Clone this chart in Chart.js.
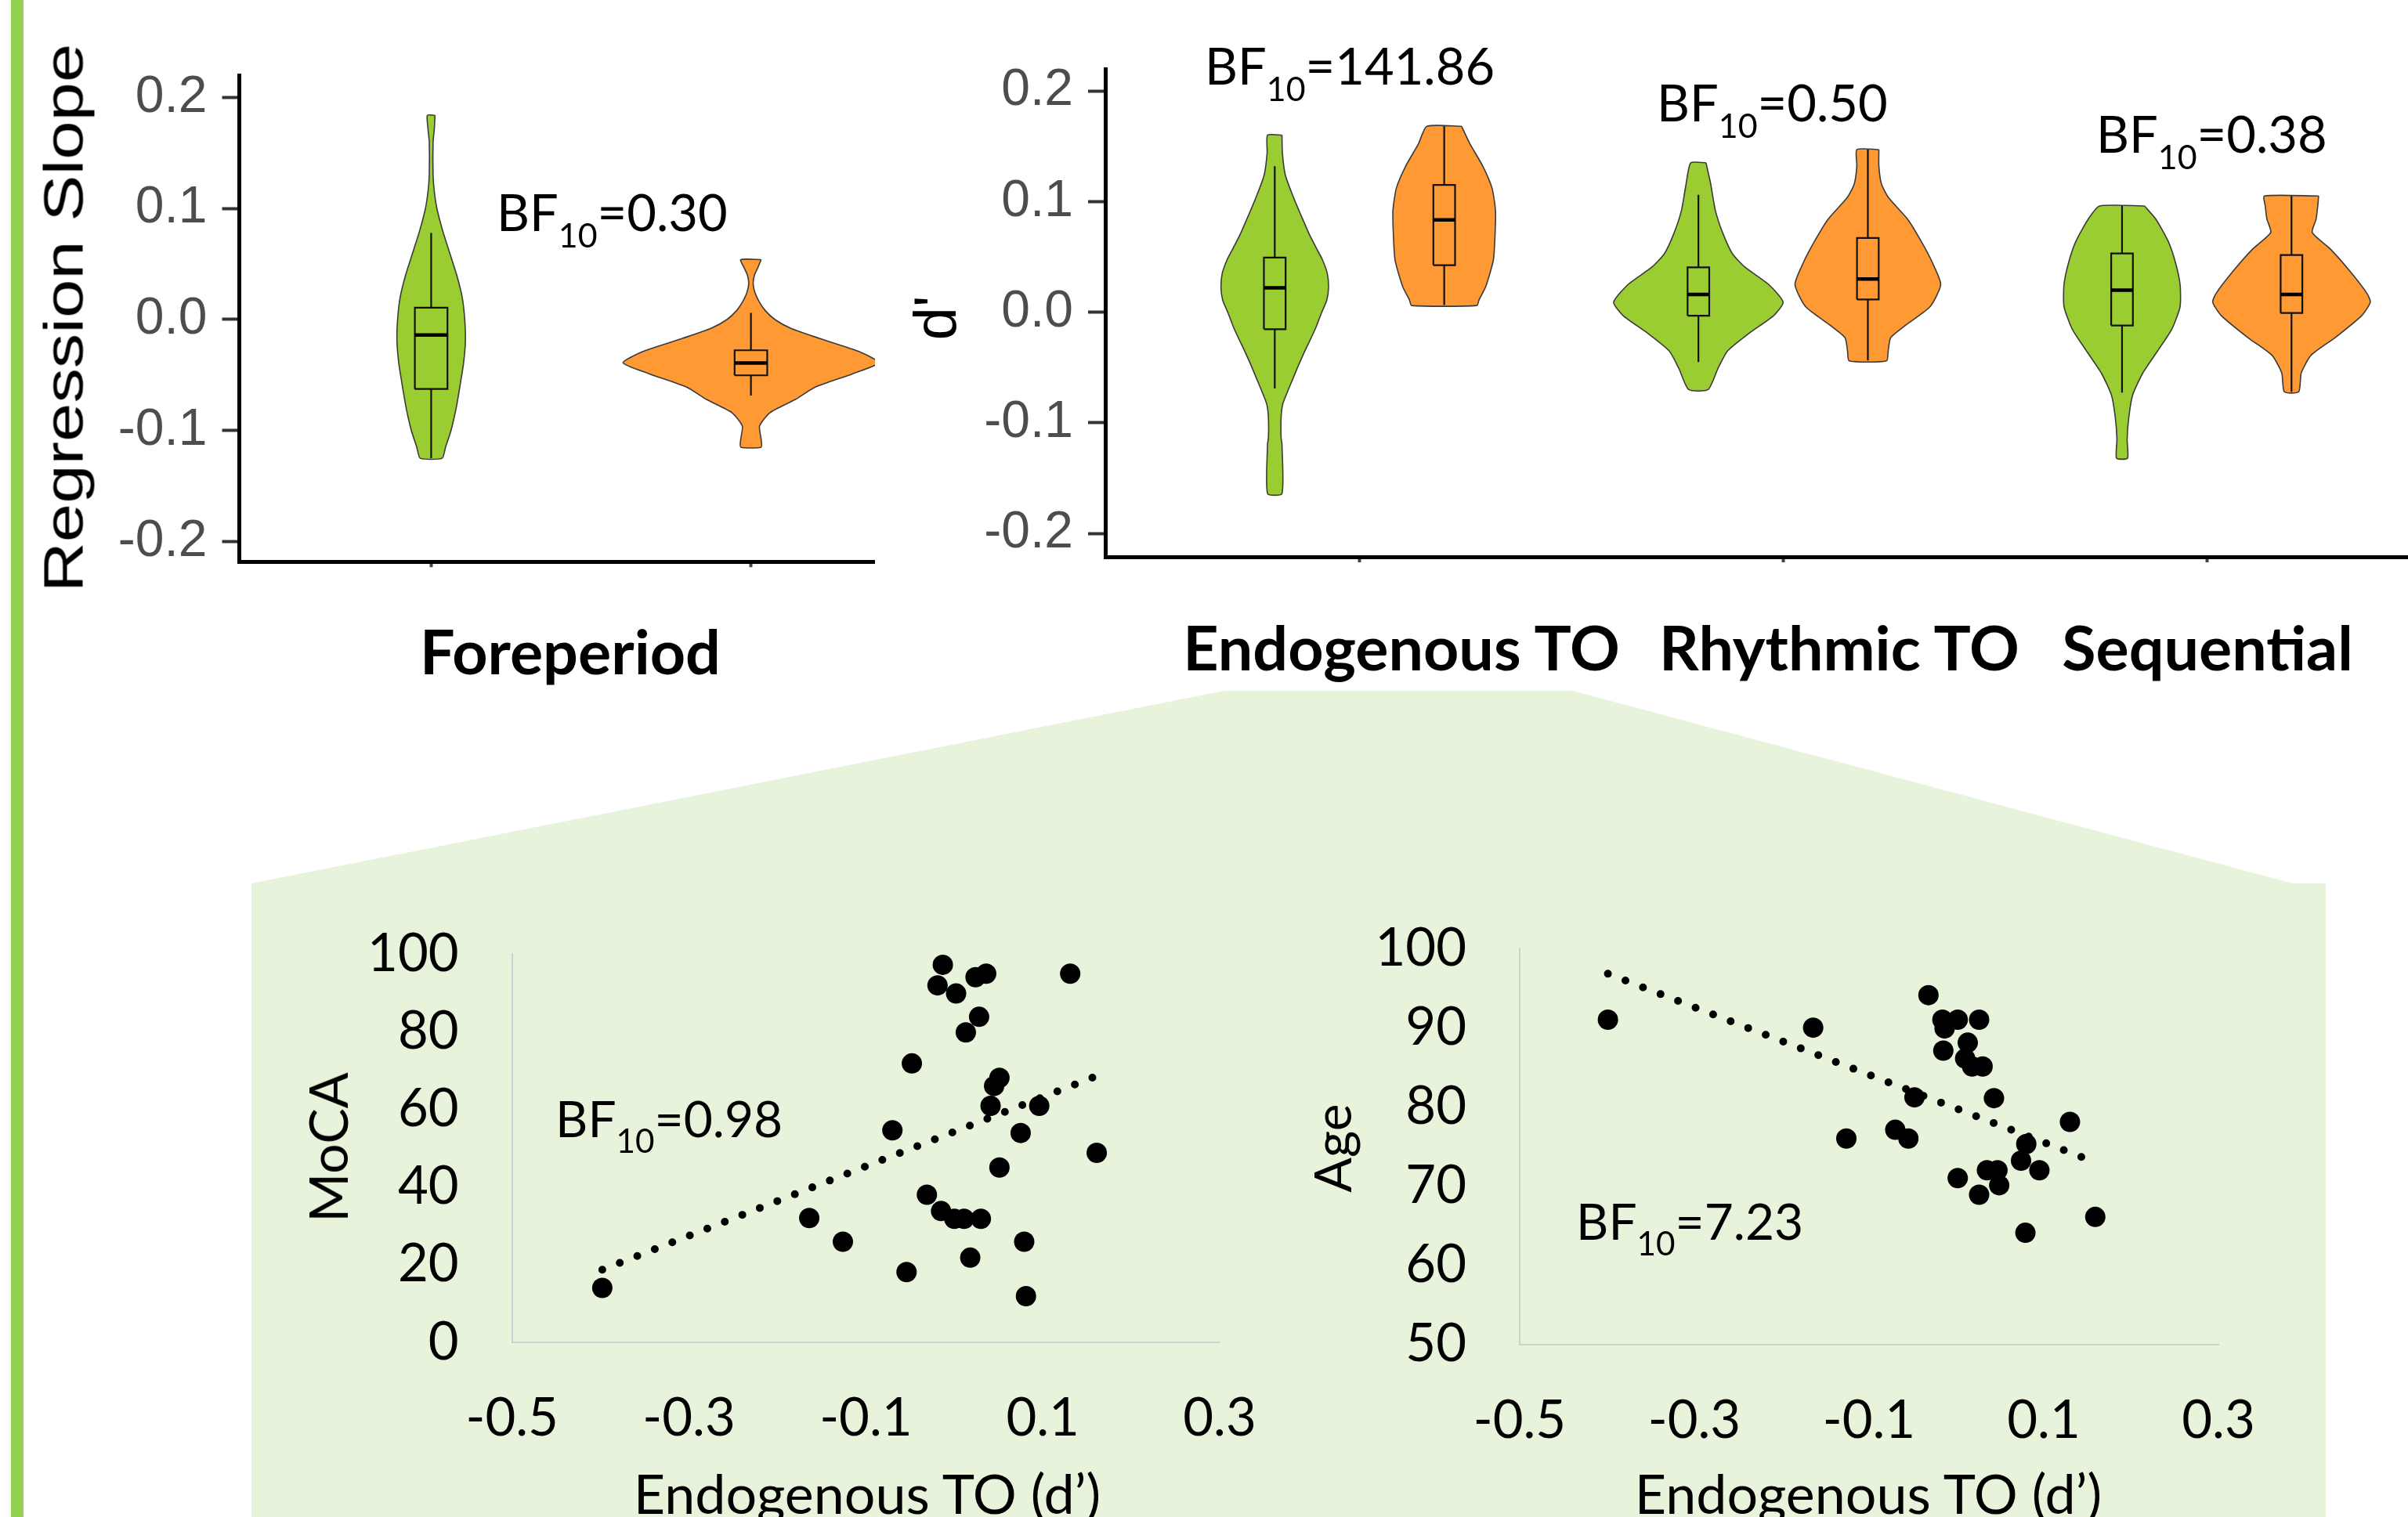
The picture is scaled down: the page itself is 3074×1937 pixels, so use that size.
<!DOCTYPE html>
<html>
<head>
<meta charset="utf-8">
<script src="https://cdn.jsdelivr.net/npm/chart.js@4.4.1/dist/chart.umd.min.js"></script>
<style>
  html, body { margin: 0; padding: 0; background: #fff; }
  body { width: 3074px; height: 1937px; position: relative; overflow: hidden; }
  #sidebar { position: absolute; left: 14px; top: 0; width: 16px; height: 1937px; background: #92d050; }
  #zoomPanel {
    position: absolute; left: 0; top: 0; width: 3074px; height: 1937px; background: #e8f3dc;
    clip-path: polygon(1563px 882px, 2008px 882px, 2927px 1128px, 2969px 1128px, 2969px 1937px, 321px 1937px, 321px 1128px);
  }
  canvas { position: absolute; }
  .txt { position: absolute; white-space: nowrap; line-height: 1; color: #000; }
  .lato { font-family: Lato, "Open Sans", sans-serif; }
  .arial { font-family: "Liberation Sans", Arial, sans-serif; }
  .bold { font-weight: 700; }
  .center { transform: translateX(-50%); }
  .sub { font-size: 0.66em; position: relative; top: 0.48em; }
  .rot { transform: translate(-50%, -50%) rotate(-90deg); }
</style>
</head>
<body>
<div id="sidebar"></div>
<div id="zoomPanel"></div>

<canvas id="foreChart" width="1017" height="760" style="left:100px;top:0px"></canvas>
<canvas id="toChart" width="1824" height="760" style="left:1250px;top:0px"></canvas>
<canvas id="mocaChart" width="1187" height="710" style="left:450px;top:1150px"></canvas>
<canvas id="ageChart" width="1152" height="720" style="left:1760px;top:1140px"></canvas>

<div class="txt arial rot" style="left:81px;top:406px;font-size:71px;transform:translate(-50%,-50%) rotate(-90deg) scaleX(1.25)">Regression Slope</div>
<div class="txt arial rot" style="left:1194px;top:406px;font-size:76px">d'</div>

<div class="txt lato" style="left:634px;top:238px;font-size:65px">BF<span class="sub">10</span>=0.30</div>
<div class="txt lato" style="left:1538px;top:51px;font-size:65px">BF<span class="sub">10</span>=141.86</div>
<div class="txt lato" style="left:2115px;top:98px;font-size:65px">BF<span class="sub">10</span>=0.50</div>
<div class="txt lato" style="left:2676px;top:138px;font-size:65px">BF<span class="sub">10</span>=0.38</div>

<div class="txt lato bold center" style="left:728px;top:791px;font-size:79px">Foreperiod</div>
<div class="txt lato bold center" style="left:1789px;top:786px;font-size:79px">Endogenous TO</div>
<div class="txt lato bold center" style="left:2348px;top:786px;font-size:79px">Rhythmic TO</div>
<div class="txt lato bold center" style="left:2818px;top:786px;font-size:79px">Sequential</div>

<div class="txt lato" style="left:709px;top:1396px;font-size:64px">BF<span class="sub">10</span>=0.98</div>
<div class="txt lato" style="left:2012px;top:1527px;font-size:64px">BF<span class="sub">10</span>=7.23</div>
<div class="txt lato rot" style="left:418px;top:1465px;font-size:68px">MoCA</div>
<div class="txt lato rot" style="left:1700px;top:1466px;font-size:66px">Age</div>
<div class="txt lato center" style="left:1107px;top:1871px;font-size:70px">Endogenous TO (d’)</div>
<div class="txt lato center" style="left:2385px;top:1871px;font-size:70px">Endogenous TO (d’)</div>

<script>
// violin outlines: [value, half density width in category units], top to bottom
const foreGreenProfile = [
  [0.184, 0.012], [0.172, 0.010], [0.160, 0.006], [0.130, 0.006], [0.115, 0.010], [0.100, 0.018],
  [0.080, 0.036], [0.060, 0.058], [0.040, 0.080], [0.020, 0.097], [0.000, 0.105], [-0.020, 0.107],
  [-0.040, 0.101], [-0.060, 0.090], [-0.080, 0.078], [-0.100, 0.062], [-0.115, 0.045], [-0.125, 0.034],
];
const foreOrangeProfile = [
  [0.054, 0.032], [0.047, 0.022], [0.040, 0.011], [0.032, 0.007], [0.024, 0.013], [0.016, 0.026],
  [0.008, 0.045], [0.000, 0.075], [-0.008, 0.125], [-0.017, 0.214], [-0.029, 0.339], [-0.039, 0.400],
  [-0.049, 0.317], [-0.061, 0.200], [-0.072, 0.139], [-0.084, 0.059], [-0.096, 0.027], [-0.108, 0.032],
  [-0.115, 0.032],
];
const endoGreenProfile = [
  [0.160, 0.017], [0.144, 0.018], [0.124, 0.025], [0.104, 0.044], [0.084, 0.066], [0.070, 0.082],
  [0.058, 0.098], [0.047, 0.113], [0.035, 0.124], [0.023, 0.127], [0.011, 0.123], [-0.001, 0.110],
  [-0.013, 0.098], [-0.024, 0.085], [-0.036, 0.070], [-0.048, 0.056], [-0.060, 0.043], [-0.072, 0.030],
  [-0.083, 0.019], [-0.095, 0.015], [-0.114, 0.015], [-0.119, 0.017], [-0.164, 0.017],
];
const endoOrangeProfile = [
  [0.168, 0.041], [0.152, 0.061], [0.132, 0.091], [0.112, 0.113], [0.092, 0.121], [0.070, 0.120],
  [0.047, 0.116], [0.023, 0.098], [0.011, 0.082], [0.006, 0.077],
];
const rhythmGreenProfile = [
  [0.135, 0.018], [0.116, 0.029], [0.092, 0.040], [0.072, 0.057], [0.053, 0.080], [0.041, 0.109],
  [0.025, 0.166], [0.009, 0.200], [-0.003, 0.178], [-0.019, 0.120], [-0.035, 0.069], [-0.051, 0.046],
  [-0.070, 0.023],
];
const rhythmOrangeProfile = [
  [0.147, 0.026], [0.132, 0.026], [0.116, 0.032], [0.104, 0.048], [0.084, 0.094], [0.064, 0.126],
  [0.045, 0.152], [0.025, 0.172], [0.005, 0.147], [-0.011, 0.092], [-0.023, 0.054], [-0.035, 0.048],
  [-0.044, 0.044],
];
const seqGreenProfile = [
  [0.096, 0.053], [0.084, 0.080], [0.064, 0.109], [0.045, 0.126], [0.025, 0.137], [0.005, 0.137],
  [-0.015, 0.118], [-0.035, 0.084], [-0.055, 0.049], [-0.075, 0.025], [-0.095, 0.016], [-0.115, 0.012],
  [-0.132, 0.013],
];
const seqOrangeProfile = [
  [0.105, 0.064], [0.096, 0.062], [0.084, 0.058], [0.072, 0.049], [0.057, 0.092], [0.037, 0.138],
  [0.017, 0.178], [0.009, 0.186], [-0.003, 0.166], [-0.023, 0.103], [-0.039, 0.046], [-0.055, 0.023],
  [-0.072, 0.017],
];

// box stats: [lower whisker, q1, median, q3, upper whisker]
const foreGreenBox = [-0.125, -0.0626, -0.0139, 0.0107, 0.078];
const foreOrangeBox = [-0.0685, -0.0503, -0.0392, -0.0277, 0.006];
const endoGreenBox = [-0.069, -0.0154, 0.022, 0.0494, 0.132];
const endoOrangeBox = [0.0064, 0.0425, 0.0835, 0.115, 0.168];
const rhythmGreenBox = [-0.045, -0.0032, 0.0159, 0.0405, 0.106];
const rhythmOrangeBox = [-0.0437, 0.0115, 0.030, 0.067, 0.147];
const seqGreenBox = [-0.0727, -0.012, 0.0199, 0.053, 0.096];
const seqOrangeBox = [-0.072, -0.0008, 0.0159, 0.0517, 0.105];

const slopeTicks = [-0.2, -0.1, 0.0, 0.1, 0.2];
const toConditions = ["Endogenous TO", "Rhythmic TO", "Sequential"];

// scatter panels
const mocaX = [-0.398, -0.164, -0.126, -0.070, -0.054, -0.048, -0.031, -0.019, -0.013, -0.015, 0.002, 0.000, 0.011, 0.013, 0.018,
  0.024, 0.036, 0.028, 0.030, 0.041, 0.045, 0.051, 0.051, 0.075, 0.079, 0.081, 0.096, 0.131, 0.161];
const mocaY = [14.0, 32.0, 25.9, 54.6, 18.1, 71.8, 38.0, 91.9, 97.2, 33.8, 89.8, 31.8, 31.8, 79.8, 21.8,
  94.0, 94.9, 83.8, 31.8, 60.9, 66.0, 68.1, 45.0, 53.9, 25.9, 11.9, 60.9, 94.9, 48.8];
const mocaTrendX = [-0.398, 0.161];
const mocaTrendY = [18.7, 68.6];

const ageX = [-0.399, -0.164, -0.126, -0.070, -0.055, -0.048, -0.032, -0.016, -0.0135, -0.015, 0.0015, 0.0015, 0.013, 0.010,
  0.018, 0.026, 0.030, 0.026, 0.035, 0.043, 0.047, 0.049, 0.074, 0.080, 0.079, 0.095, 0.130, 0.159];
const ageY = [91.0, 90.0, 76.0, 77.1, 76.0, 81.2, 94.1, 91.0, 89.9, 87.1, 91.0, 71.0, 88.1, 86.1,
  85.1, 91.0, 85.1, 68.9, 72.0, 81.1, 72.0, 70.1, 73.2, 75.3, 64.1, 72.0, 78.1, 66.1];
const ageTrendX = [-0.399, 0.159];
const ageTrendY = [96.8, 73.0];

const dprimeTicks = [-0.5, -0.3, -0.1, 0.1, 0.3];

const GREEN = "#9acd32";
const ORANGE = "#ff9933";
const DODGE = 0.2;

function violinDataset(profile, center, color) {
  const right = profile.map(([v, w]) => ({ x: center + w, y: v }));
  const left = profile.slice().reverse().map(([v, w]) => ({ x: center - w, y: v }));
  const points = right.concat(left);
  points.push(points[0]);
  return {
    data: points, showLine: true, fill: "shape", backgroundColor: color,
    borderColor: "#3a3a3a", borderWidth: 1.6, pointRadius: 0, tension: 0.2, order: 2,
  };
}

function boxDatasets(stats, center, halfWidth) {
  const [lo, q1, med, q3, hi] = stats;
  const gap = { x: null, y: null };
  return [
    {
      data: [
        { x: center - halfWidth, y: q1 }, { x: center + halfWidth, y: q1 },
        { x: center + halfWidth, y: q3 }, { x: center - halfWidth, y: q3 },
        { x: center - halfWidth, y: q1 }, gap,
        { x: center, y: q3 }, { x: center, y: hi }, gap,
        { x: center, y: q1 }, { x: center, y: lo },
      ],
      showLine: true, fill: false, borderColor: "#111", borderWidth: 2.2, borderJoinStyle: "miter",
      pointRadius: 0, tension: 0, order: 1,
    },
    {
      data: [{ x: center - halfWidth, y: med }, { x: center + halfWidth, y: med }],
      showLine: true, fill: false, borderColor: "#000", borderWidth: 4.5, pointRadius: 0, tension: 0, order: 0,
    },
  ];
}

function topYScale(min, max, yWidth) {
  return {
    type: "linear", min, max,
    afterBuildTicks: (s) => { s.ticks = slopeTicks.map((v) => ({ value: v })); },
    afterFit: (s) => { s.width = yWidth; s.paddingTop = 0; s.paddingBottom = 0; },
    grid: { drawOnChartArea: false, drawTicks: true, tickLength: 22, tickWidth: 4, tickColor: "#333" },
    border: { display: true, color: "#000", width: 5 },
    ticks: {
      color: "#4d4d4d", padding: 19,
      font: { family: "'Liberation Sans', Arial, sans-serif", size: 66 },
      callback: (v) => Number(v).toFixed(1),
    },
  };
}

function topXScale(min, max, categoryCount) {
  const positions = Array.from({ length: categoryCount }, (_, i) => i + 1);
  return {
    type: "linear", min, max,
    afterBuildTicks: (s) => { s.ticks = positions.map((v) => ({ value: v })); },
    afterFit: (s) => { s.height = 20; s.paddingLeft = 0; s.paddingRight = 0; },
    grid: { drawOnChartArea: false, drawTicks: true, tickLength: 7, tickWidth: 4, tickColor: "#444" },
    border: { display: true, color: "#000", width: 5 },
    ticks: { callback: () => "", padding: 0 },
  };
}

function scatterYScale(min, max, step, yWidth) {
  return {
    type: "linear", min, max,
    afterFit: (s) => { s.width = yWidth; s.paddingTop = 0; s.paddingBottom = 0; },
    grid: { display: false, drawTicks: false },
    border: { display: true, color: "#d0d0d0", width: 2 },
    ticks: { stepSize: step, padding: 68, color: "#000", font: { family: "Lato, sans-serif", size: 67 } },
  };
}

function scatterXScale() {
  return {
    type: "linear", min: -0.5, max: 0.3,
    afterBuildTicks: (s) => { s.ticks = dprimeTicks.map((v) => ({ value: v })); },
    afterFit: (s) => { s.height = 140; s.paddingLeft = 0; s.paddingRight = 0; },
    grid: { display: false, drawTicks: false },
    border: { display: true, color: "#d0d0d0", width: 2 },
    ticks: {
      padding: 57, color: "#000", font: { family: "Lato, sans-serif", size: 67 },
      callback: (v) => Number(v).toFixed(1),
    },
  };
}

function makeChart(id, datasets, padding, xScale, yScale) {
  return new Chart(document.getElementById(id), {
    type: "scatter",
    data: { datasets },
    options: {
      responsive: false,
      animation: false,
      events: [],
      layout: { padding },
      plugins: { legend: { display: false }, tooltip: { enabled: false } },
      scales: { x: xScale, y: yScale },
    },
  });
}

function scatterDatasets(xs, ys, trendX, trendY) {
  return [
    {
      data: xs.map((x, i) => ({ x, y: ys[i] })),
      pointRadius: 13, pointBackgroundColor: "#000", pointBorderWidth: 0, clip: false, order: 0,
    },
    {
      data: trendX.map((x, i) => ({ x, y: trendY[i] })),
      showLine: true, borderColor: "#000", borderWidth: 10, borderDash: [0, 24], borderCapStyle: "round",
      pointRadius: 0, clip: false, order: 1,
    },
  ];
}

// Foreperiod panel
const foreSets = [
  violinDataset(foreGreenProfile, 1, GREEN),
  violinDataset(foreOrangeProfile, 2, ORANGE),
  ...boxDatasets(foreGreenBox, 1, 0.051),
  ...boxDatasets(foreOrangeBox, 2, 0.051),
];
makeChart("foreChart", foreSets, { top: 96.5, bottom: 22.8, left: 0, right: 0 },
  topXScale(0.4, 2.388, 2), topYScale(-0.2182, 0.2198, 205.5));

// temporal orienting panel
const greenProfiles = [endoGreenProfile, rhythmGreenProfile, seqGreenProfile];
const orangeProfiles = [endoOrangeProfile, rhythmOrangeProfile, seqOrangeProfile];
const greenBoxes = [endoGreenBox, rhythmGreenBox, seqGreenBox];
const orangeBoxes = [endoOrangeBox, rhythmOrangeBox, seqOrangeBox];
const toSets = [];
toConditions.forEach((name, i) => {
  const c = i + 1;
  toSets.push(violinDataset(greenProfiles[i], c - DODGE, GREEN));
  toSets.push(violinDataset(orangeProfiles[i], c + DODGE, ORANGE));
  toSets.push(...boxDatasets(greenBoxes[i], c - DODGE, 0.0256));
  toSets.push(...boxDatasets(orangeBoxes[i], c + DODGE, 0.0256));
});
makeChart("toChart", toSets, { top: 88.7, bottom: 29, left: 0, right: 0 },
  topXScale(0.4, 3.475, toConditions.length), topYScale(-0.2212, 0.2194, 161));

// scatter panels
makeChart("mocaChart", scatterDatasets(mocaX, mocaY, mocaTrendX, mocaTrendY),
  { top: 68, bottom: 6, left: 0, right: 80 }, scatterXScale(), scatterYScale(0, 100, 20, 203.7));
makeChart("ageChart", scatterDatasets(ageX, ageY, ageTrendX, ageTrendY),
  { top: 71, bottom: 3.3, left: 0, right: 80 }, scatterXScale(), scatterYScale(50, 100, 10, 180));
</script>
</body>
</html>
